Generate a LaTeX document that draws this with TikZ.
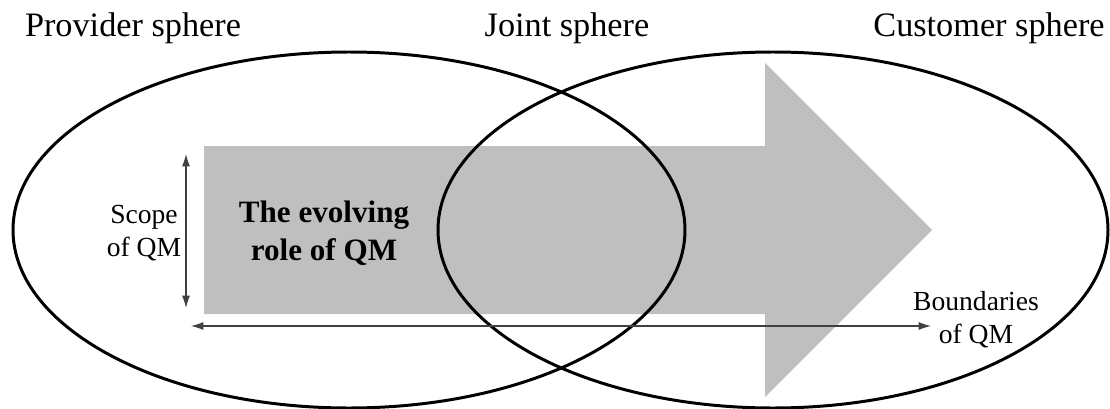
\documentclass[tikz,border=0pt]{standalone}
\usepackage{fontspec}
\setmainfont{Liberation Serif}
\usetikzlibrary{arrows.meta}

\tikzset{
  sphere/.style = {black, line width = 1.7pt},
  measure/.style = {{Latex[length=7pt,width=4.5pt]}-{Latex[length=7pt,width=4.5pt]}, black!75, line width = 0.6pt},
  title/.style = {anchor = base, font = \fontsize{19.5}{23}\selectfont},
  label/.style = {align = center, font = \fontsize{15.7}{18.8}\selectfont}
}

\begin{document}
\begin{tikzpicture} [x = 0.02cm, y = -0.02cm] 
\useasboundingbox (0, 0) rectangle (1110, 409);
% evolving role arrow
\fill[gray!50] (204, 146) -- (765, 146) -- (765, 63) -- (932, 230) -- (765, 397) -- (765, 314) -- (204, 314) -- cycle;
% spheres
\draw[sphere] (349, 230) ellipse [x radius = 336, y radius = 178];
\draw[sphere] (773, 230) ellipse [x radius = 335, y radius = 178];
\node[title] (provider) at (133, 36){Provider sphere};
\node[title] (joint) at (567, 36){Joint sphere};
\node[title] (customer) at (989, 36){Customer sphere};
\node[align = center, font = \fontsize{17.7}{21.6}\selectfont\bfseries] (role) at (324, 233){The evolving\\role of QM};
% scope and boundaries
\coordinate (scopetop) at (186, 154);
\coordinate (scopebot) at (186, 308);
\coordinate (boundl) at (191, 326);
\coordinate (boundr) at (931, 326);
\draw[measure] (scopetop) -- (scopebot);
\draw[measure] (boundl) -- (boundr);
\node[label] (scope) at (144, 233){Scope\\of QM};
\node[label] (bounds) at (976, 320){Boundaries\\of QM};
\end{tikzpicture}
\end{document}
